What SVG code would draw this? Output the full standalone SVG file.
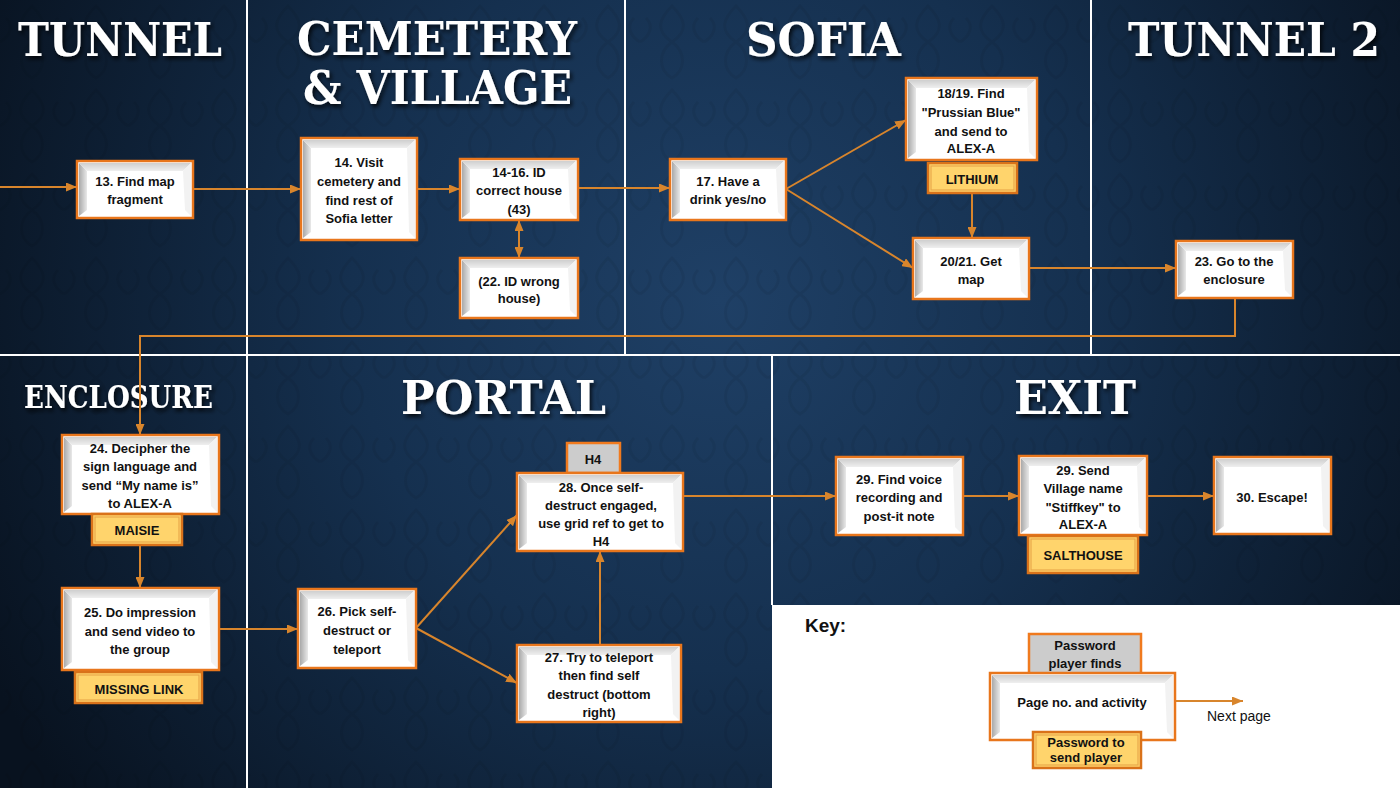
<svg xmlns="http://www.w3.org/2000/svg" width="1400" height="788" viewBox="0 0 1400 788">
<defs>
  <radialGradient id="bg" cx="720" cy="300" r="820" gradientUnits="userSpaceOnUse">
    <stop offset="0" stop-color="#1f4066"/>
    <stop offset="0.45" stop-color="#15304f"/>
    <stop offset="1" stop-color="#08121f"/>
  </radialGradient>
  <pattern id="damask" x="0" y="0" width="64" height="84" patternUnits="userSpaceOnUse">
    <path d="M32 6 C44 18 50 30 32 42 C14 30 20 18 32 6 Z M32 42 C46 52 46 70 32 78 C18 70 18 52 32 42 Z M0 42 C10 36 14 26 6 18 M64 42 C54 36 50 26 58 18" fill="none" stroke="#000" stroke-opacity="0.06" stroke-width="3"/>
  </pattern>
  <linearGradient id="bevL" x1="0" y1="0" x2="1" y2="0">
    <stop offset="0" stop-color="#a9a9a9"/>
    <stop offset="1" stop-color="#e9e9e9"/>
  </linearGradient>
  <linearGradient id="bevT" x1="0" y1="0" x2="0" y2="1">
    <stop offset="0" stop-color="#cfcfcf"/>
    <stop offset="1" stop-color="#efefef"/>
  </linearGradient>
  <filter id="shadow" x="-10%" y="-20%" width="120%" height="150%">
    <feDropShadow dx="2" dy="3" stdDeviation="2" flood-color="#000" flood-opacity="0.8"/>
  </filter>
  <marker id="arr" markerUnits="userSpaceOnUse" markerWidth="11" markerHeight="9" refX="11" refY="4.5" orient="auto-start-reverse">
    <path d="M0,0 L11,4.5 L0,9 Z" fill="#d8852c"/>
  </marker>
  <style>
    .box{fill:#ffffff;stroke:#e8761c;stroke-width:2.5}
    .bl{fill:url(#bevL)}
    .bt{fill:url(#bevT)}
    .br{fill:#f2f2f2}
    .gold{fill:#ffd46c;stroke:#d9721a;stroke-width:2.5}
    .goldin{fill:none;stroke:#e9a94c;stroke-width:1.2}
    .grey{fill:#cccccc;stroke:#f07a1e;stroke-width:2.5}
    .t{font-family:"Liberation Sans",Arial,sans-serif;font-weight:bold;font-size:13px;fill:#111;text-anchor:middle}
    .h{font-family:"DejaVu Serif",serif;font-weight:bold;fill:#ffffff;filter:url(#shadow)}
    .div{stroke:#ffffff;stroke-width:2}
    .c{fill:none;stroke:#d8852c;stroke-width:2}
  </style>
</defs>

<!-- background -->
<rect x="0" y="0" width="1400" height="788" fill="url(#bg)"/>
<rect x="0" y="0" width="1400" height="788" fill="url(#damask)"/>
<rect x="772" y="605" width="628" height="183" fill="#ffffff"/>

<!-- dividers -->
<g id="dividers">
  <line class="div" x1="0" y1="355" x2="1400" y2="355"/>
  <line class="div" x1="247" y1="0" x2="247" y2="788"/>
  <line class="div" x1="625" y1="0" x2="625" y2="355"/>
  <line class="div" x1="1091" y1="0" x2="1091" y2="355"/>
  <line class="div" x1="772" y1="355" x2="772" y2="605"/>
</g>

<!-- headings -->
<g id="headings">
  <text class="h" x="18" y="56" font-size="46" textLength="204" lengthAdjust="spacingAndGlyphs">TUNNEL</text>
  <text class="h" x="297" y="55" font-size="46" textLength="280" lengthAdjust="spacingAndGlyphs">CEMETERY</text>
  <text class="h" x="303" y="104" font-size="46" textLength="269" lengthAdjust="spacingAndGlyphs">&amp; VILLAGE</text>
  <text class="h" x="746" y="56" font-size="46" textLength="155" lengthAdjust="spacingAndGlyphs">SOFIA</text>
  <text class="h" x="1128" y="56" font-size="46" textLength="252" lengthAdjust="spacingAndGlyphs">TUNNEL 2</text>
  <text class="h" x="24" y="408" font-size="31" textLength="189" lengthAdjust="spacingAndGlyphs">ENCLOSURE</text>
  <text class="h" x="401" y="414" font-size="46" textLength="205" lengthAdjust="spacingAndGlyphs">PORTAL</text>
  <text class="h" x="1014" y="414" font-size="46" textLength="122" lengthAdjust="spacingAndGlyphs">EXIT</text>
</g>

<!-- connectors -->
<g id="connectors">
  <line class="c" x1="0" y1="187" x2="77" y2="187" marker-end="url(#arr)"/>
  <line class="c" x1="193" y1="189" x2="301" y2="189" marker-end="url(#arr)"/>
  <line class="c" x1="417" y1="189" x2="460" y2="189" marker-end="url(#arr)"/>
  <line class="c" x1="578" y1="188" x2="670" y2="188" marker-end="url(#arr)"/>
  <line class="c" x1="519" y1="220" x2="519" y2="258" marker-start="url(#arr)" marker-end="url(#arr)"/>
  <line class="c" x1="786" y1="189" x2="906" y2="120" marker-end="url(#arr)"/>
  <line class="c" x1="786" y1="189" x2="913" y2="268" marker-end="url(#arr)"/>
  <line class="c" x1="972" y1="193" x2="972" y2="238" marker-end="url(#arr)"/>
  <line class="c" x1="1029" y1="268" x2="1176" y2="268" marker-end="url(#arr)"/>
  <polyline class="c" points="1235,298 1235,336 140,336 140,435" marker-end="url(#arr)"/>
  <line class="c" x1="140" y1="545" x2="140" y2="588" marker-end="url(#arr)"/>
  <line class="c" x1="219" y1="629" x2="298" y2="629" marker-end="url(#arr)"/>
  <line class="c" x1="416" y1="628" x2="517" y2="515" marker-end="url(#arr)"/>
  <line class="c" x1="416" y1="628" x2="517" y2="683" marker-end="url(#arr)"/>
  <line class="c" x1="600" y1="645" x2="600" y2="551" marker-end="url(#arr)"/>
  <line class="c" x1="683" y1="496" x2="836" y2="496" marker-end="url(#arr)"/>
  <line class="c" x1="963" y1="496" x2="1019" y2="496" marker-end="url(#arr)"/>
  <line class="c" x1="1147" y1="496" x2="1214" y2="496" marker-end="url(#arr)"/>
  <line class="c" x1="1175" y1="701" x2="1243" y2="701" marker-end="url(#arr)"/>
</g>

<!-- nodes -->
<g id="n13">
  <rect class="box" x="77" y="161" width="116" height="57"/>
  <path class="bl" d="M79 163 L87 171 L87 210 L79 216 Z"/>
  <path class="bt" d="M79 163 L191 163 L183 171 L87 171 Z"/>
  <path class="br" d="M191 163 L191 216 L185 210 L183 171 Z"/>
  <text class="t" x="135" y="186">13. Find map</text>
  <text class="t" x="135" y="204">fragment</text>
</g>

<g id="n14">
  <rect class="box" x="301" y="138" width="116" height="102"/>
  <path class="bl" d="M303 140 L311 148 L311 232 L303 238 Z"/>
  <path class="bt" d="M303 140 L415 140 L407 148 L311 148 Z"/>
  <path class="br" d="M415 140 L415 238 L409 232 L407 148 Z"/>
  <text class="t" x="359" y="167">14. Visit</text>
  <text class="t" x="359" y="186">cemetery and</text>
  <text class="t" x="359" y="205">find rest of</text>
  <text class="t" x="359" y="223">Sofia letter</text>
</g>

<g id="n14-16">
  <rect class="box" x="460" y="159" width="118" height="61"/>
  <path class="bl" d="M462 161 L470 169 L470 212 L462 218 Z"/>
  <path class="bt" d="M462 161 L576 161 L568 169 L470 169 Z"/>
  <path class="br" d="M576 161 L576 218 L570 212 L568 169 Z"/>
  <text class="t" x="519" y="177">14-16. ID</text>
  <text class="t" x="519" y="195">correct house</text>
  <text class="t" x="519" y="214">(43)</text>
</g>

<g id="n22">
  <rect class="box" x="460" y="258" width="118" height="60"/>
  <path class="bl" d="M462 260 L470 268 L470 310 L462 316 Z"/>
  <path class="bt" d="M462 260 L576 260 L568 268 L470 268 Z"/>
  <path class="br" d="M576 260 L576 316 L570 310 L568 268 Z"/>
  <text class="t" x="519" y="286">(22. ID wrong</text>
  <text class="t" x="519" y="303">house)</text>
</g>

<g id="n17">
  <rect class="box" x="670" y="159" width="116" height="61"/>
  <path class="bl" d="M672 161 L680 169 L680 212 L672 218 Z"/>
  <path class="bt" d="M672 161 L784 161 L776 169 L680 169 Z"/>
  <path class="br" d="M784 161 L784 218 L778 212 L776 169 Z"/>
  <text class="t" x="728" y="186">17. Have a</text>
  <text class="t" x="728" y="204">drink yes/no</text>
</g>

<g id="n18-19">
  <rect class="box" x="906" y="78" width="131" height="82"/>
  <path class="bl" d="M908 80 L916 88 L916 152 L908 158 Z"/>
  <path class="bt" d="M908 80 L1035 80 L1027 88 L916 88 Z"/>
  <path class="br" d="M1035 80 L1035 158 L1029 152 L1027 88 Z"/>
  <text class="t" x="971" y="98">18/19. Find</text>
  <text class="t" x="971" y="117">"Prussian Blue"</text>
  <text class="t" x="971" y="136">and send to</text>
  <text class="t" x="971" y="153">ALEX-A</text>
  <rect class="gold" x="928" y="163" width="89" height="30"/>
  <rect class="goldin" x="931" y="166" width="83" height="24"/>
  <text class="t" x="972" y="184">LITHIUM</text>
</g>

<g id="n20-21">
  <rect class="box" x="913" y="238" width="116" height="61"/>
  <path class="bl" d="M915 240 L923 248 L923 291 L915 297 Z"/>
  <path class="bt" d="M915 240 L1027 240 L1019 248 L923 248 Z"/>
  <path class="br" d="M1027 240 L1027 297 L1021 291 L1019 248 Z"/>
  <text class="t" x="971" y="266">20/21. Get</text>
  <text class="t" x="971" y="284">map</text>
</g>

<g id="n23">
  <rect class="box" x="1176" y="241" width="117" height="57"/>
  <path class="bl" d="M1178 243 L1186 251 L1186 290 L1178 296 Z"/>
  <path class="bt" d="M1178 243 L1291 243 L1283 251 L1186 251 Z"/>
  <path class="br" d="M1291 243 L1291 296 L1285 290 L1283 251 Z"/>
  <text class="t" x="1234" y="266">23. Go to the</text>
  <text class="t" x="1234" y="284">enclosure</text>
</g>

<g id="n24">
  <rect class="box" x="62" y="435" width="157" height="79"/>
  <path class="bl" d="M64 437 L72 445 L72 506 L64 512 Z"/>
  <path class="bt" d="M64 437 L217 437 L209 445 L72 445 Z"/>
  <path class="br" d="M217 437 L217 512 L211 506 L209 445 Z"/>
  <text class="t" x="140" y="453">24. Decipher the</text>
  <text class="t" x="140" y="471">sign language and</text>
  <text class="t" x="140" y="490">send “My name is”</text>
  <text class="t" x="140" y="508">to ALEX-A</text>
  <rect class="gold" x="92" y="514" width="90" height="31"/>
  <rect class="goldin" x="95" y="517" width="84" height="25"/>
  <text class="t" x="137" y="535">MAISIE</text>
</g>

<g id="n25">
  <rect class="box" x="62" y="588" width="157" height="82"/>
  <path class="bl" d="M64 590 L72 598 L72 662 L64 668 Z"/>
  <path class="bt" d="M64 590 L217 590 L209 598 L72 598 Z"/>
  <path class="br" d="M217 590 L217 668 L211 662 L209 598 Z"/>
  <text class="t" x="140" y="617">25. Do impression</text>
  <text class="t" x="140" y="636">and send video to</text>
  <text class="t" x="140" y="654">the group</text>
  <rect class="gold" x="75" y="672" width="127" height="31"/>
  <rect class="goldin" x="78" y="675" width="121" height="25"/>
  <text class="t" x="139" y="694">MISSING LINK</text>
</g>

<g id="n26">
  <rect class="box" x="298" y="589" width="118" height="79"/>
  <path class="bl" d="M300 591 L308 599 L308 660 L300 666 Z"/>
  <path class="bt" d="M300 591 L414 591 L406 599 L308 599 Z"/>
  <path class="br" d="M414 591 L414 666 L408 660 L406 599 Z"/>
  <text class="t" x="357" y="616">26. Pick self-</text>
  <text class="t" x="357" y="635">destruct or</text>
  <text class="t" x="357" y="654">teleport</text>
</g>

<g id="n28">
  <rect class="grey" x="567" y="443" width="53" height="30"/>
  <text class="t" x="593" y="464">H4</text>
  <rect class="box" x="517" y="473" width="166" height="78"/>
  <path class="bl" d="M519 475 L527 483 L527 543 L519 549 Z"/>
  <path class="bt" d="M519 475 L681 475 L673 483 L527 483 Z"/>
  <path class="br" d="M681 475 L681 549 L675 543 L673 483 Z"/>
  <text class="t" x="601" y="492">28. Once self-</text>
  <text class="t" x="601" y="510">destruct engaged,</text>
  <text class="t" x="601" y="528">use grid ref to get to</text>
  <text class="t" x="601" y="546">H4</text>
</g>

<g id="n27">
  <rect class="box" x="517" y="645" width="164" height="77"/>
  <path class="bl" d="M519 647 L527 655 L527 714 L519 720 Z"/>
  <path class="bt" d="M519 647 L679 647 L671 655 L527 655 Z"/>
  <path class="br" d="M679 647 L679 720 L673 714 L671 655 Z"/>
  <text class="t" x="599" y="662">27. Try to teleport</text>
  <text class="t" x="599" y="680">then find self</text>
  <text class="t" x="599" y="699">destruct (bottom</text>
  <text class="t" x="599" y="717">right)</text>
</g>

<g id="n29a">
  <rect class="box" x="836" y="457" width="127" height="78"/>
  <path class="bl" d="M838 459 L846 467 L846 527 L838 533 Z"/>
  <path class="bt" d="M838 459 L961 459 L953 467 L846 467 Z"/>
  <path class="br" d="M961 459 L961 533 L955 527 L953 467 Z"/>
  <text class="t" x="899" y="484">29. Find voice</text>
  <text class="t" x="899" y="502">recording and</text>
  <text class="t" x="899" y="521">post-it note</text>
</g>

<g id="n29b">
  <rect class="box" x="1019" y="456" width="128" height="79"/>
  <path class="bl" d="M1021 458 L1029 466 L1029 527 L1021 533 Z"/>
  <path class="bt" d="M1021 458 L1145 458 L1137 466 L1029 466 Z"/>
  <path class="br" d="M1145 458 L1145 533 L1139 527 L1137 466 Z"/>
  <text class="t" x="1083" y="475">29. Send</text>
  <text class="t" x="1083" y="493">Village name</text>
  <text class="t" x="1083" y="512">"Stiffkey" to</text>
  <text class="t" x="1083" y="529">ALEX-A</text>
  <rect class="gold" x="1028" y="536" width="110" height="37"/>
  <rect class="goldin" x="1031" y="539" width="104" height="31"/>
  <text class="t" x="1083" y="560">SALTHOUSE</text>
</g>

<g id="n30">
  <rect class="box" x="1214" y="457" width="117" height="77"/>
  <path class="bl" d="M1216 459 L1224 467 L1224 526 L1216 532 Z"/>
  <path class="bt" d="M1216 459 L1329 459 L1321 467 L1224 467 Z"/>
  <path class="br" d="M1329 459 L1329 532 L1323 526 L1321 467 Z"/>
  <text class="t" x="1272" y="502">30. Escape!</text>
</g>

<!-- key -->
<g id="key">
  <text x="805" y="632" font-family="Liberation Sans, Arial, sans-serif" font-weight="bold" font-size="19" fill="#111">Key:</text>
  <rect class="grey" x="1029" y="634" width="112" height="40"/>
  <text class="t" x="1085" y="650">Password</text>
  <text class="t" x="1085" y="668">player finds</text>
  <rect class="box" x="990" y="673" width="185" height="67"/>
  <path class="bl" d="M992 675 L1000 683 L1000 732 L992 738 Z"/>
  <path class="bt" d="M992 675 L1173 675 L1165 683 L1000 683 Z"/>
  <path class="br" d="M1173 675 L1173 738 L1167 732 L1165 683 Z"/>
  <text class="t" x="1082" y="707">Page no. and activity</text>
  <rect class="gold" x="1033" y="732" width="108" height="36"/>
  <rect class="goldin" x="1036" y="735" width="102" height="30"/>
  <text class="t" x="1086" y="747">Password to</text>
  <text class="t" x="1086" y="762">send player</text>
  <text x="1207" y="721" font-family="Liberation Sans, Arial, sans-serif" font-size="14" fill="#111">Next page</text>
</g>
</svg>
